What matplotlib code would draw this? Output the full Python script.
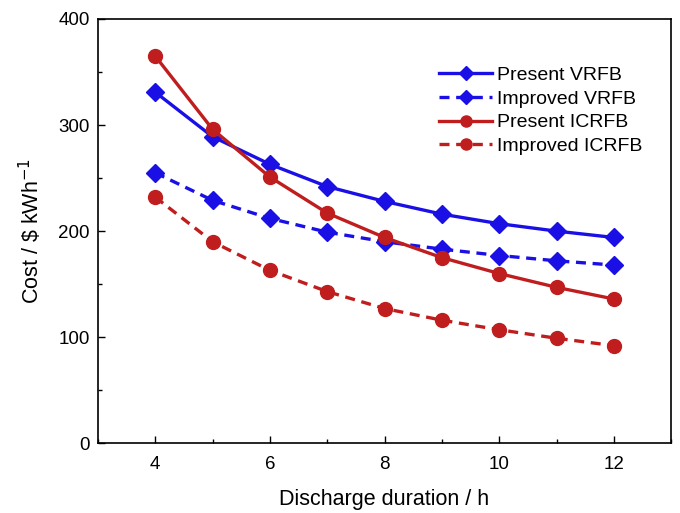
import numpy as np
import matplotlib
matplotlib.use('Agg')
import matplotlib.pyplot as plt
import matplotlib.ticker as ticker

plt.rcParams['font.family'] = ['Liberation Sans', 'DejaVu Sans']

# discharge duration (h)
hours = [4, 5, 6, 7, 8, 9, 10, 11, 12]

# cost ($/kWh)
present_vrfb = [331, 289, 263, 242, 228, 216, 207, 200, 194]
improved_vrfb = [255, 229, 212, 199, 190, 183, 177, 172, 168]
present_icrfb = [365, 296, 251, 217, 194, 175, 160, 147, 136]
improved_icrfb = [232, 190, 163, 143, 127, 116, 107, 99, 92]

blue = '#1a10e6'
red = '#c01e1e'

fig = plt.figure(figsize=(6.8, 5.13), dpi=100)
ax = fig.add_axes([0.144, 0.136, 0.843, 0.827])

ax.plot(hours, present_vrfb, '-', color=blue, lw=2.4, marker='D', ms=9.5,
        label='Present VRFB')
ax.plot(hours, improved_vrfb, '--', color=blue, lw=2.4, marker='D', ms=9.5,
        dashes=(3, 2), label='Improved VRFB')
ax.plot(hours, present_icrfb, '-', color=red, lw=2.4, marker='o', ms=10,
        label='Present ICRFB')
ax.plot(hours, improved_icrfb, '--', color=red, lw=2.4, marker='o', ms=10,
        dashes=(3, 2), label='Improved ICRFB')

ax.set_xlim(3, 13)
ax.set_ylim(0, 400)
ax.xaxis.set_major_locator(ticker.MultipleLocator(2))
ax.xaxis.set_minor_locator(ticker.MultipleLocator(1))
ax.yaxis.set_major_locator(ticker.MultipleLocator(100))
ax.yaxis.set_minor_locator(ticker.MultipleLocator(50))
ax.tick_params(which='both', direction='in', labelsize=13.5)
ax.tick_params(which='major', length=5, width=1)
ax.tick_params(which='minor', length=3, width=1)
ax.tick_params(axis='x', pad=9)
ax.tick_params(axis='y', pad=6)
for s in ax.spines.values():
    s.set_linewidth(1.2)

ax.set_xlabel('Discharge duration / h', fontsize=15.5, labelpad=12)
ax.set_ylabel('Cost / \\$ kWh$^{-1}$', fontsize=15.5, labelpad=10)

ax.legend(loc='upper right', bbox_to_anchor=(0.98, 0.93), frameon=False,
          fontsize=14, handlelength=2.7, handletextpad=0.25, labelspacing=0.32,
          markerscale=0.8)

fig.savefig('out.png', dpi=100)
